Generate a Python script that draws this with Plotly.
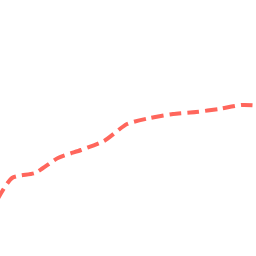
import plotly.graph_objects as go

x_vals = [-11, 12, 35, 58, 81, 104, 127, 150, 173, 196, 219, 242, 265]
y_vals = [215, 178, 173, 158, 150, 141, 124, 118, 114, 112, 109, 105, 106]

fig = go.Figure()
fig.add_trace(go.Scatter(
    x=x_vals, y=y_vals, mode="lines",
    line=dict(color="#ff665c", width=4, dash="12px,6px", shape="spline", smoothing=0.6),
))
fig.update_layout(
    width=256, height=256,
    margin=dict(l=0, r=0, t=0, b=0),
    paper_bgcolor="white", plot_bgcolor="white",
    showlegend=False,
    xaxis=dict(range=[0, 256], visible=False),
    yaxis=dict(range=[256, 0], visible=False),
)
fig.write_html("out.html")
